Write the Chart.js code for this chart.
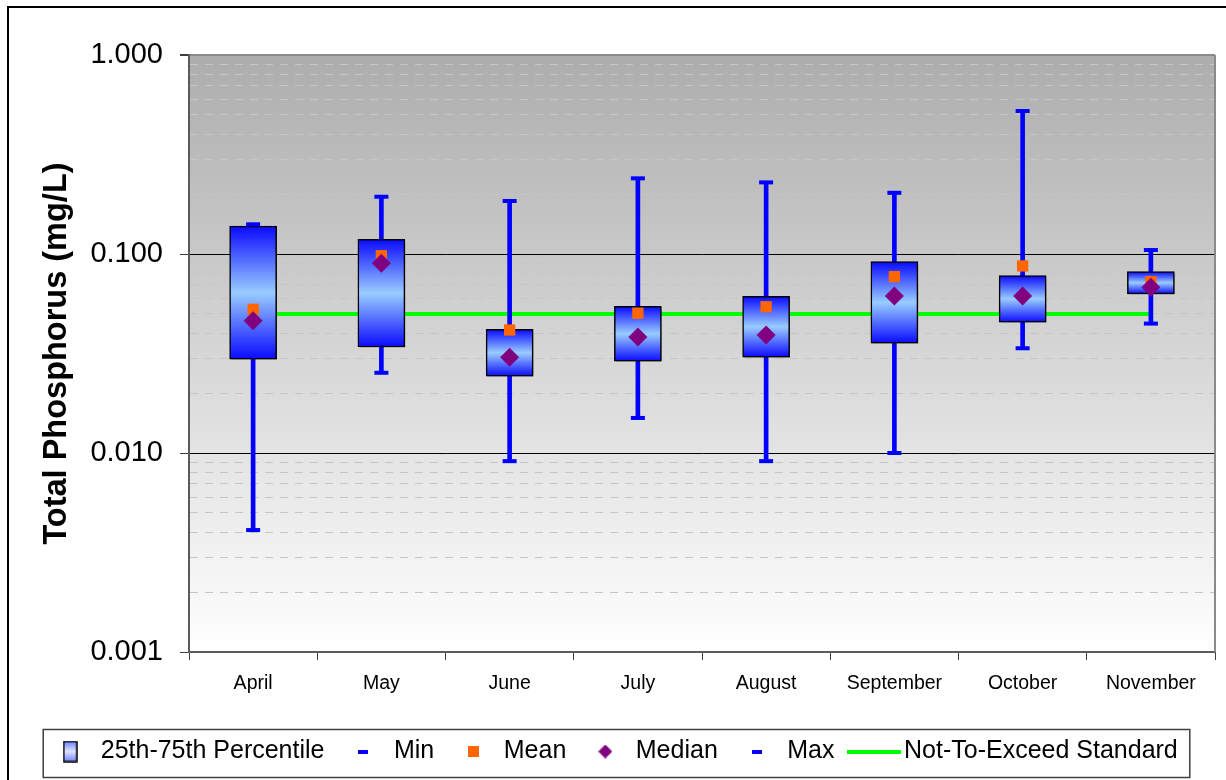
<!DOCTYPE html>
<html>
<head>
<meta charset="utf-8">
<script src="https://cdn.jsdelivr.net/npm/chart.js@4.4.0/dist/chart.umd.min.js"></script>
<style>
  html, body { margin: 0; padding: 0; background: #ffffff; }
  #wrap { width: 1226px; height: 780px; }
</style>
</head>
<body>
<div id="wrap"><canvas id="chart" width="1226" height="780"></canvas></div>
<script>
// Monthly total phosphorus statistics (mg/L)
const months = ['April', 'May', 'June', 'July', 'August', 'September', 'October', 'November'];
const minVals    = [0.0041, 0.0253, 0.0091, 0.0150, 0.0091, 0.0100, 0.0336, 0.0447];
const q1Vals     = [0.0296, 0.0341, 0.0243, 0.0289, 0.0303, 0.0356, 0.0454, 0.0630];
const medianVals = [0.0462, 0.0898, 0.0303, 0.0383, 0.0392, 0.0615, 0.0615, 0.0680];
const meanVals   = [0.0527, 0.0980, 0.0415, 0.0504, 0.0543, 0.0769, 0.0871, 0.0726];
const q3Vals     = [0.1380, 0.1185, 0.0418, 0.0546, 0.0613, 0.0915, 0.0778, 0.0815];
const maxVals    = [0.1410, 0.1940, 0.1846, 0.2400, 0.2290, 0.2030, 0.5230, 0.1047];
const standardVals = [0.05, 0.05, 0.05, 0.05, 0.05, 0.05, 0.05, 0.05];

// Axis decades and their labels
const majorTicks = [0.001, 0.01, 0.1, 1];
const tickLabels = ['0.001', '0.010', '0.100', '1.000'];

// Every decade gets minor grid lines at 2..9
const gridTicks = [];
majorTicks.forEach((d, k) => {
  gridTicks.push({ value: d, major: true });
  if (k < majorTicks.length - 1) {
    for (let m = 2; m <= 9; m++) gridTicks.push({ value: Number((d * m).toPrecision(6)), major: false });
  }
});

const boxData = months.map((_, i) => [q1Vals[i], q3Vals[i]]);
const whiskerData = months.map((_, i) => [minVals[i], maxVals[i]]);

Chart.defaults.font.family = '"Liberation Sans", Arial, Helvetica, sans-serif';
Chart.defaults.color = '#000000';

// Vertical blue-to-light-blue shading of each interquartile box
function boxFill(c) {
  const chart = c.chart;
  const y = chart.scales && chart.scales.y;
  if (!chart.chartArea || c.type !== 'data' || !y || !Array.isArray(c.raw)) return '#6fa4ff';
  const top = y.getPixelForValue(c.raw[1]);
  const bottom = y.getPixelForValue(c.raw[0]);
  if (!isFinite(top) || !isFinite(bottom) || top === bottom) return '#6fa4ff';
  const g = chart.ctx.createLinearGradient(0, top, 0, bottom);
  g.addColorStop(0, '#0a0aff');
  g.addColorStop(0.5, '#99ccff');
  g.addColorStop(1, '#0a0aff');
  return g;
}

// Small canvases used as legend symbols
function icon(w, h, paint) {
  const c = document.createElement('canvas');
  c.width = w; c.height = h;
  paint(c.getContext('2d'), w, h);
  return c;
}
const boxIcon = icon(15, 22, (g, w, h) => {
  const gr = g.createLinearGradient(0, 1, 0, h - 1);
  gr.addColorStop(0, '#6f80ff');
  gr.addColorStop(0.5, '#dde6ff');
  gr.addColorStop(1, '#6f80ff');
  g.fillStyle = gr;
  g.fillRect(1, 1, w - 2, h - 2);
  g.strokeStyle = '#000000';
  g.lineWidth = 1.5;
  g.strokeRect(1, 1, w - 2, h - 2);
});
const dashIcon = () => icon(10, 4, (g, w, h) => { g.fillStyle = '#0000ff'; g.fillRect(0, 0, w, h); });
const meanIcon = icon(11, 11, (g, w, h) => { g.fillStyle = '#ff6600'; g.fillRect(0, 0, w, h); });
const medianIcon = icon(14, 14, (g, w, h) => {
  g.fillStyle = '#800080';
  g.beginPath(); g.moveTo(w / 2, 0); g.lineTo(w, h / 2); g.lineTo(w / 2, h); g.lineTo(0, h / 2); g.closePath(); g.fill();
});
const lineIcon = icon(54, 4, (g, w, h) => { g.fillStyle = '#00ff00'; g.fillRect(0, 0, w, h); });

const legendEntries = [
  { text: '25th-75th Percentile', pointStyle: boxIcon, datasetIndex: 2 },
  { text: 'Min', pointStyle: dashIcon(), datasetIndex: 3 },
  { text: 'Mean', pointStyle: meanIcon, datasetIndex: 5 },
  { text: 'Median', pointStyle: medianIcon, datasetIndex: 6 },
  { text: 'Max', pointStyle: dashIcon(), datasetIndex: 4 },
  { text: 'Not-To-Exceed Standard', pointStyle: lineIcon, datasetIndex: 0 }
].map(e => Object.assign(e, {
  fontColor: '#000000', hidden: false, lineWidth: 0,
  strokeStyle: 'rgba(0,0,0,0)', fillStyle: 'rgba(0,0,0,0)'
}));

const BOX_DATASET = 2;

// Background shading, outer frame, plot frame, legend frame, box shadow
const decorations = {
  id: 'decorations',
  beforeDraw(chart) {
    const { ctx, chartArea: a, width, height } = chart;
    ctx.save();
    ctx.fillStyle = '#ffffff';
    ctx.fillRect(0, 0, width, height);
    ctx.strokeStyle = '#000000';
    ctx.lineWidth = 2;
    ctx.strokeRect(8, 7, width + 40, height + 40);
    const g = ctx.createLinearGradient(0, a.top, 0, a.bottom);
    g.addColorStop(0, '#adadad');
    g.addColorStop(1, '#ffffff');
    ctx.fillStyle = g;
    ctx.fillRect(a.left, a.top, a.right - a.left, a.bottom - a.top);
    ctx.restore();
  },
  beforeDatasetsDraw(chart) {
    const { ctx, chartArea: a } = chart;
    ctx.save();
    ctx.strokeStyle = '#8a8a8a';
    ctx.lineWidth = 2;
    ctx.beginPath();
    ctx.moveTo(a.right, a.top);
    ctx.lineTo(a.right, a.bottom);
    ctx.stroke();
    ctx.restore();
  },
  beforeDatasetDraw(chart, args) {
    if (args.index !== BOX_DATASET) return;
    const ctx = chart.ctx;
    ctx.save();
    ctx.shadowColor = 'rgba(0,0,0,0.35)';
    ctx.shadowBlur = 2;
    ctx.shadowOffsetX = 2;
    ctx.shadowOffsetY = 2;
  },
  afterDatasetDraw(chart, args) {
    if (args.index !== BOX_DATASET) return;
    chart.ctx.restore();
  },
  afterDraw(chart) {
    const boxes = chart.legend && chart.legend.legendHitBoxes;
    if (!boxes || !boxes.length) return;
    const first = boxes[0], last = boxes[boxes.length - 1];
    const mid = first.top + first.height / 2;
    const ctx = chart.ctx;
    ctx.save();
    ctx.strokeStyle = '#404040';
    ctx.lineWidth = 1.5;
    ctx.strokeRect(first.left - 9, mid - 22, last.left + last.width + 12 - (first.left - 9), 48);
    ctx.restore();
  }
};

new Chart(document.getElementById('chart'), {
  type: 'bar',
  data: {
    labels: months,
    datasets: [
      { type: 'line', label: 'Not-To-Exceed Standard', data: standardVals,
        borderColor: '#00ff00', borderWidth: 4, pointRadius: 0, fill: false, order: 6 },
      { type: 'bar', label: 'Min-Max', data: whiskerData,
        backgroundColor: '#0000ff', barThickness: 4, grouped: false, order: 5 },
      { type: 'bar', label: '25th-75th Percentile', data: boxData,
        backgroundColor: boxFill, borderColor: '#000000', borderWidth: 1.5,
        borderSkipped: false, barThickness: 47, grouped: false, order: 4 },
      { type: 'line', label: 'Min', data: minVals, showLine: false,
        pointStyle: 'line', pointRadius: 7, pointBorderWidth: 4, pointBorderColor: '#0000ff', order: 3 },
      { type: 'line', label: 'Max', data: maxVals, showLine: false,
        pointStyle: 'line', pointRadius: 7, pointBorderWidth: 4, pointBorderColor: '#0000ff', order: 2 },
      { type: 'line', label: 'Mean', data: meanVals, showLine: false,
        pointStyle: 'rect', pointRadius: 8, pointBorderWidth: 0,
        pointBackgroundColor: '#ff6600', order: 1 },
      { type: 'line', label: 'Median', data: medianVals, showLine: false,
        pointStyle: 'rectRot', pointRadius: 9.5, pointBorderWidth: 0,
        pointBackgroundColor: '#800080', order: 0 }
    ]
  },
  options: {
    responsive: false,
    animation: false,
    events: [],
    layout: { padding: { top: 55, right: 10, bottom: 6, left: 14 } },
    plugins: {
      tooltip: { enabled: false },
      legend: {
        position: 'bottom',
        labels: {
          usePointStyle: true,
          pointStyleWidth: 36,
          padding: 21,
          color: '#000000',
          font: { size: 25 },
          generateLabels: () => legendEntries
        }
      }
    },
    scales: {
      x: {
        offset: true,
        grid: { offset: true, drawOnChartArea: false, tickLength: 8, color: '#404040', lineWidth: 1 },
        border: { color: '#5a5a5a', width: 2 },
        ticks: { color: '#000000', font: { size: 19.5 }, padding: 12, maxRotation: 0, autoSkip: false },
        afterFit(scale) { scale.height = 66; }
      },
      y: {
        type: 'logarithmic',
        min: 0.001,
        max: 1,
        afterBuildTicks(scale) { scale.ticks = gridTicks.map(t => ({ value: t.value, major: t.major })); },
        afterFit(scale) { scale.width = 175; },
        ticks: {
          autoSkip: false,
          padding: 17,
          color: '#000000',
          font: { size: 29 },
          callback(value) {
            const k = majorTicks.indexOf(value);
            return k >= 0 ? tickLabels[k] : '';
          }
        },
        grid: {
          tickLength: 9,
          color(c) {
            const t = c.tick;
            if (!t) return '#000000';
            if (t.value === 1 || t.value === 0.001) return '#8a8a8a';
            return t.major ? '#000000' : '#c6c6c6';
          },
          lineWidth(c) { return c.tick && c.tick.value === 1 ? 2 : 1; },
          tickColor(c) { return c.tick && c.tick.major ? '#404040' : 'rgba(0,0,0,0)'; }
        },
        border: {
          color: '#5a5a5a',
          width: 2,
          dash(c) { return c.tick && !c.tick.major ? [8, 7] : []; }
        },
        title: {
          display: true,
          text: 'Total Phosphorus (mg/L)',
          color: '#000000',
          font: { size: 32.5, weight: 'bold' },
          padding: { top: 24, bottom: 0 }
        }
      }
    }
  },
  plugins: [decorations]
});
</script>
</body>
</html>
